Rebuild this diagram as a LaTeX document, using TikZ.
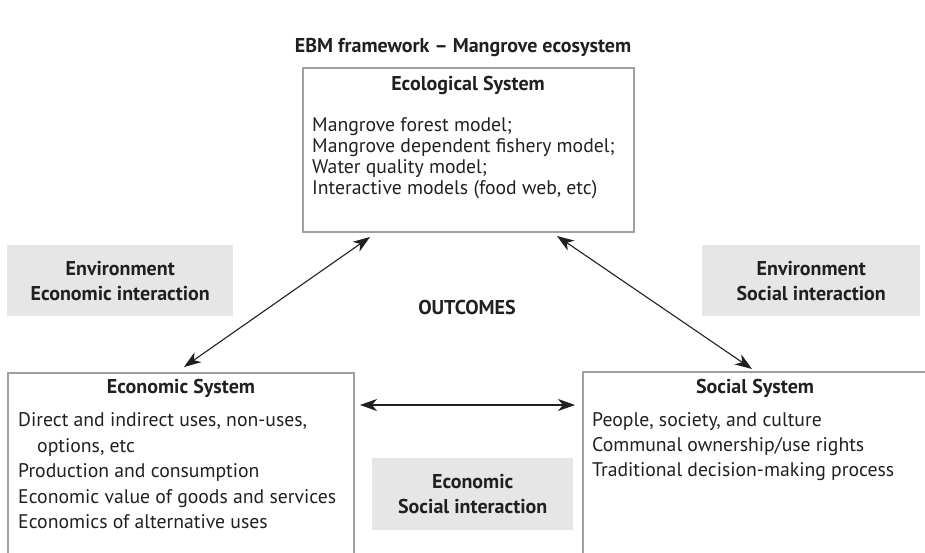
\documentclass[tikz,border=0pt]{standalone}
\usepackage{fontspec}
\setmainfont{PT Sans}
\usetikzlibrary{arrows.meta}
\definecolor{boxline}{HTML}{A0A0A0}
\definecolor{tagfill}{HTML}{E6E6E7}
\definecolor{ink}{HTML}{231F20}
\begin{document}
\begin{tikzpicture}[x=1pt,y=-1pt,
  every node/.style={font=\fontsize{19.7}{21}\selectfont, text=ink},
  boldtext/.style={font=\fontsize{20}{21}\selectfont\bfseries},
  sysbox/.style={draw=boxline, line width=2pt, anchor=north west, inner sep=0pt},
  systitle/.style={boldtext},
  sysitems/.style={align=left, anchor=west, inner sep=0pt},
  tagbox/.style={fill=tagfill, anchor=north west, inner sep=0pt},
  tagtext/.style={font=\fontsize{20}{25}\selectfont\bfseries, align=center, inner sep=0pt},
  biarrow/.style={{Stealth[length=17pt,width=12pt,inset=5pt]}-{Stealth[length=17pt,width=12pt,inset=5pt]}, line width=1.1pt, draw=ink},
]
\useasboundingbox (0,0) rectangle (925,553);
\clip (0,0) rectangle (925,553);

% heading
\node[boldtext] (heading) at (463,48) {EBM framework -- Mangrove ecosystem};

% the three systems
\node[sysbox, minimum width=331pt, minimum height=164pt] (eco) at (302,67) {};
\node[systitle] (ecotitle) at (468,85) {Ecological System};
\node[sysitems, font=\fontsize{19.7}{21}\selectfont] (ecoitems) at (312,158.5)
  {Mangrove forest model;\\
   Mangrove dependent fishery model;\\
   Water quality model;\\
   Interactive models (food web, etc)};

\node[sysbox, minimum width=346pt, minimum height=240pt] (econ) at (7,372) {};
\node[systitle] (econtitle) at (181,388) {Economic System};
\node[sysitems, font=\fontsize{19.7}{25.5}\selectfont] (econitems) at (18,471)
  {Direct and indirect uses, non-uses,\\
   \hspace*{19pt}options, etc\\
   Production and consumption\\
   Economic value of goods and services\\
   Economics of alternative uses};

\node[sysbox, minimum width=360pt, minimum height=240pt] (social) at (582,371) {};
\node[systitle] (socialtitle) at (755,388) {Social System};
\node[sysitems, font=\fontsize{19.7}{25}\selectfont] (socialitems) at (592,447)
  {People, society, and culture\\
   Communal ownership/use rights\\
   Traditional decision-making process};

% interaction labels
\node[tagbox, minimum width=226pt, minimum height=71pt] (envecon) at (7,245) {};
\node[tagtext] (envecontext) at (envecon.center) {Environment\\Economic interaction};

\node[tagbox, minimum width=218pt, minimum height=71pt] (envsoc) at (702,245) {};
\node[tagtext] (envsoctext) at (envsoc.center) {Environment\\Social interaction};

\node[tagbox, minimum width=201pt, minimum height=72pt] (econsoc) at (372,458) {};
\node[tagtext] (econsoctext) at (econsoc.center) {Economic\\Social interaction};

\node[boldtext] (outcomes) at (467,307) {OUTCOMES};

% two-way links between the systems
\draw[biarrow] ([xshift=3pt,yshift=5pt]econ.north) -- ([xshift=68pt,yshift=-4pt]eco.south west);
\draw[biarrow] ([xshift=-78pt,yshift=-3pt]eco.south east) -- ([xshift=170pt,yshift=2pt]social.north west);
\draw[biarrow] ([xshift=5pt,yshift=-33pt]econ.north east) -- ([xshift=-7pt,yshift=-34pt]social.north west);
\end{tikzpicture}
\end{document}
